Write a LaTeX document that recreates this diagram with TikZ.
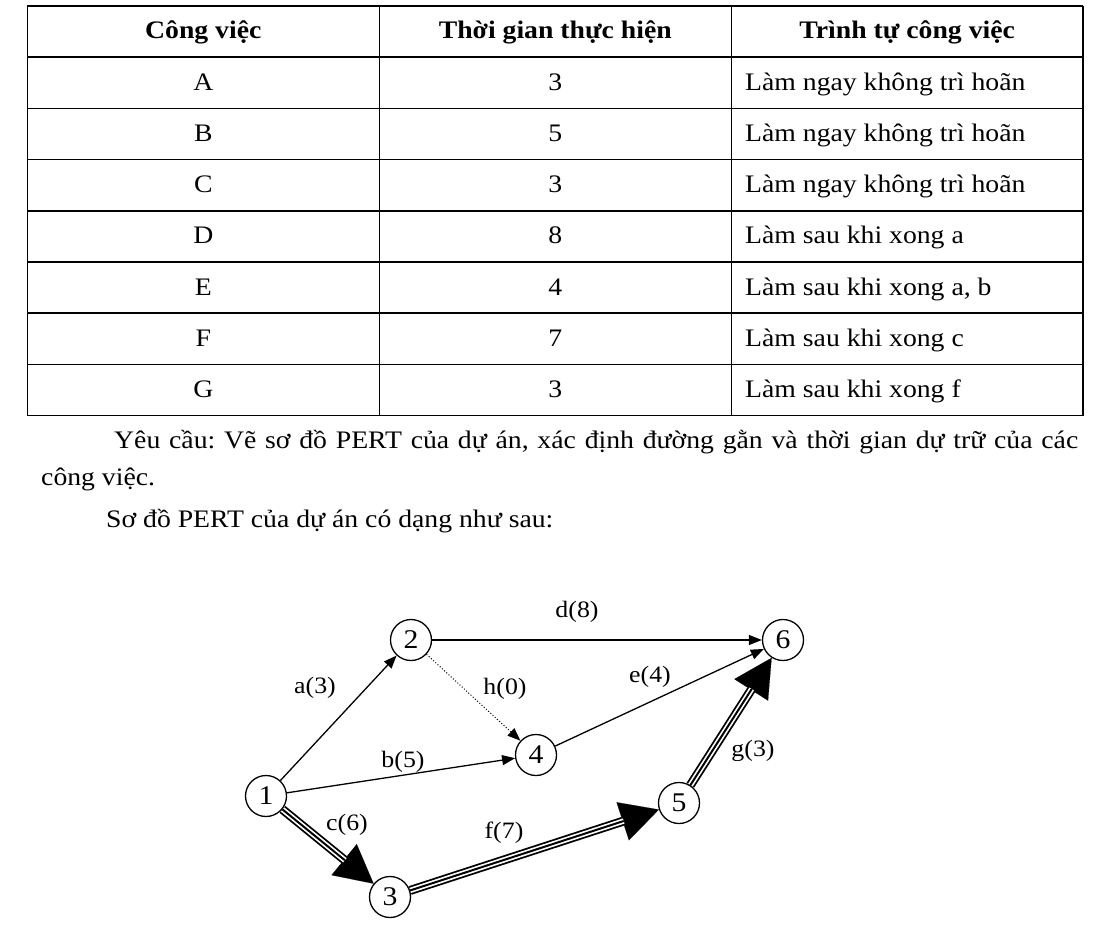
\documentclass[tikz,border=0pt]{standalone}
\usepackage{fontspec}
\setmainfont{Liberation Serif}[FakeStretch=1.1]
\usetikzlibrary{arrows.meta}
\pgfdeclarelayer{edges}
\pgfsetlayers{edges,main}
\frenchspacing
\tikzset{
  every node/.style={inner sep=0pt},
  cell/.style={anchor=base, font=\fontsize{25.2bp}{30bp}\selectfont},
  cellL/.style={anchor=base west, font=\fontsize{25.2bp}{30bp}\selectfont},
  head/.style={anchor=base, font=\fontsize{25.2bp}{30bp}\selectfont\bfseries},
  body/.style={anchor=base west, font=\fontsize{25.2bp}{30bp}\selectfont},
  grid/.style={line width=1.5bp},
  event/.style={circle, draw, line width=1.3bp, fill=white, minimum size=41bp, font=\fontsize{27bp}{30bp}\selectfont},
  elabel/.style={font=\fontsize{23.5bp}{28bp}\selectfont},
  edge/.style={line width=1.3bp, -{Triangle[length=13bp,width=10bp]}},
  dummy/.style={line width=1bp, dotted, -{Triangle[length=13bp,width=10bp]}},
  critout/.style={line width=9bp, -{Triangle[length=38bp,width=40bp,line width=0.1bp]}},
  critwhite/.style={line width=5.4bp, white, shorten >=37bp},
  critin/.style={line width=2bp, shorten >=37bp},
}
\begin{document}
\begin{tikzpicture}[x=1bp,y=-1bp]
\useasboundingbox (0,0) rectangle (1100,940);
% ---- table grid
\foreach \yy in {6,57.2,108.4,159.6,210.8,262,313.2,364.4,415.6}
  \draw[grid] (27.3,\yy) -- (1083,\yy);
\foreach \xx in {27.3,379.3,731.3,1083}
  \draw[grid] (\xx,6) -- (\xx,415.6);
% ---- header
\node[head] (h1) at (203.3,38) {Công việc};
\node[head] (h2) at (555.3,38) {Thời gian thực hiện};
\node[head] (h3) at (907.2,38) {Trình tự công việc};
% ---- rows
\foreach \k/\job/\dur/\seq in {0/A/3/Làm ngay không trì hoãn,
                               1/B/5/Làm ngay không trì hoãn,
                               2/C/3/Làm ngay không trì hoãn,
                               3/D/8/Làm sau khi xong a,
                               4/E/4/{Làm sau khi xong a, b},
                               5/F/7/Làm sau khi xong c,
                               6/G/3/Làm sau khi xong f}{
  \pgfmathsetmacro{\yb}{57.2+51.2*\k+33}
  \node[cell] (job\k) at (203.3,\yb) {\job};
  \node[cell] (dur\k) at (555.3,\yb) {\dur};
  \node[cellL] (seq\k) at (745,\yb) {\seq};
}
% ---- paragraph text
\node[body] (p1) at (114,448.5) {\makebox[964bp][s]{Yêu cầu: Vẽ sơ đồ PERT của dự án, xác định đường gằn và thời gian dự trữ của các}};
\node[body] (p2) at (41,485.5) {công việc.};
\node[body] (p3) at (106,527.5) {Sơ đồ PERT của dự án có dạng như sau:};
% ---- events
\node[event] (n1) at (266,796) {1};
\node[event] (n2) at (411,640) {2};
\node[event] (n3) at (390,897) {3};
\node[event] (n4) at (536,755) {4};
\node[event] (n5) at (679,803) {5};
\node[event] (n6) at (783,640) {6};
% ---- labels
\node[elabel] (la) at (315,688) {a(3)};
\node[elabel] (lb) at (403,762) {b(5)};
\node[elabel] (lc) at (347,825) {c(6)};
\node[elabel] (ld) at (577,612) {d(8)};
\node[elabel] (le) at (650,677) {e(4)};
\node[elabel] (lf) at (504,833) {f(7)};
\node[elabel] (lg) at (753,751) {g(3)};
\node[elabel] (lh) at (505,689) {h(0)};
% ---- activities
\begin{pgfonlayer}{edges}
\draw[edge] (n1) -- (n2);
\draw[edge] (n1) -- (n4);
\draw[edge] (n2) -- (n6);
\draw[edge] (n4) -- (n6);
\draw[dummy] (n2) -- (n4);
\foreach \s/\t in {n1/n3, n3/n5, n5/n6}{
  \draw[critout] (\s) -- (\t);
  \draw[critwhite] (\s) -- (\t);
  \draw[critin] (\s) -- (\t);
}
\end{pgfonlayer}
\end{tikzpicture}
\end{document}
